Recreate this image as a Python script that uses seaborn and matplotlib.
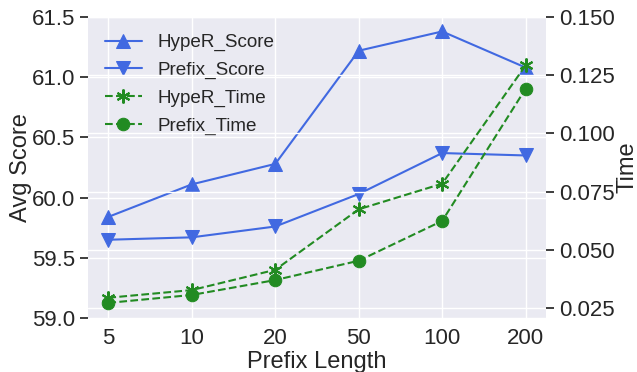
import numpy as np
import matplotlib
matplotlib.use("Agg")
import matplotlib.pyplot as plt
import seaborn as sns
import pandas as pd

prefix_lengths = ["5", "10", "20", "50", "100", "200"]
hyper_score = [59.84, 60.11, 60.28, 61.22, 61.38, 61.08]
prefix_score = [59.65, 59.67, 59.76, 60.03, 60.37, 60.35]
hyper_time = [0.0294, 0.0327, 0.0414, 0.0674, 0.0784, 0.1292]
prefix_time = [0.0272, 0.0306, 0.0370, 0.0453, 0.0624, 0.1192]

sns.set_theme(style="darkgrid")
plt.rcParams['font.family'] = ['Liberation Sans', 'DejaVu Sans']

pos = np.arange(len(prefix_lengths))
df = pd.DataFrame({"pos": pos, "hs": hyper_score, "ps": prefix_score,
                   "ht": hyper_time, "pt": prefix_time})

fig = plt.figure(figsize=(6.37, 3.72), dpi=100)
ax1 = fig.add_axes([87.5/637, 54/372, 459/637, 301/372])
ax2 = ax1.twinx()

blue = "#4169E1"
green = "#228B22"
sns.lineplot(data=df, x="pos", y="hs", ax=ax1, color=blue, marker="^",
             markersize=10, markeredgecolor=blue, linewidth=1.5, label="HypeR_Score", legend=False)
sns.lineplot(data=df, x="pos", y="ps", ax=ax1, color=blue, marker="v",
             markersize=10, markeredgecolor=blue, linewidth=1.5, label="Prefix_Score", legend=False)
sns.lineplot(data=df, x="pos", y="ht", ax=ax2, color=green, marker="*",
             markersize=10, markeredgecolor=green, linewidth=1.5, linestyle="--",
             label="HypeR_Time", legend=False)
sns.lineplot(data=df, x="pos", y="pt", ax=ax2, color=green, marker="o",
             markersize=9, markeredgecolor=green, linewidth=1.5, linestyle="--",
             label="Prefix_Time", legend=False)
ax2.lines[0].set_marker((6, 2, 0))
ax2.lines[0].set_markeredgewidth(1.5)

ax1.set_xlim(-0.25, 5.25)
ax1.set_xticks(pos)
ax1.set_xticklabels(prefix_lengths)
ax1.set_ylim(59.0, 61.5)
ax1.set_yticks([59.0, 59.5, 60.0, 60.5, 61.0, 61.5])
ax1.set_yticklabels(["59.0", "59.5", "60.0", "60.5", "61.0", "61.5"])
ax2.set_ylim(0.0207, 0.150)
ax2.set_yticks([0.025, 0.050, 0.075, 0.100, 0.125, 0.150])
ax2.set_yticklabels(["0.025", "0.050", "0.075", "0.100", "0.125", "0.150"])

ax1.tick_params(axis="x", labelsize=16, colors="#262626", pad=1.5)
ax1.tick_params(axis="y", labelsize=16, colors="#262626", pad=3)
ax2.tick_params(axis="y", labelsize=16, colors="#262626", pad=3)
ax1.set_xlabel("Prefix Length", fontsize=17, color="#262626", labelpad=1)
ax1.set_ylabel("Avg Score", fontsize=17, color="#262626", labelpad=0)
ax2.set_ylabel("Time", fontsize=17, color="#262626", labelpad=1)

for sp in list(ax1.spines.values()) + list(ax2.spines.values()):
    sp.set_visible(False)

h1, l1 = ax1.get_legend_handles_labels()
h2, l2 = ax2.get_legend_handles_labels()
ax1.legend(h1 + h2, l1 + l2, loc="upper left", fontsize=13.6, frameon=False,
           handlelength=2.0, borderaxespad=0.5, labelspacing=0.55, handletextpad=0.8)

fig.savefig("out.png", dpi=100)
